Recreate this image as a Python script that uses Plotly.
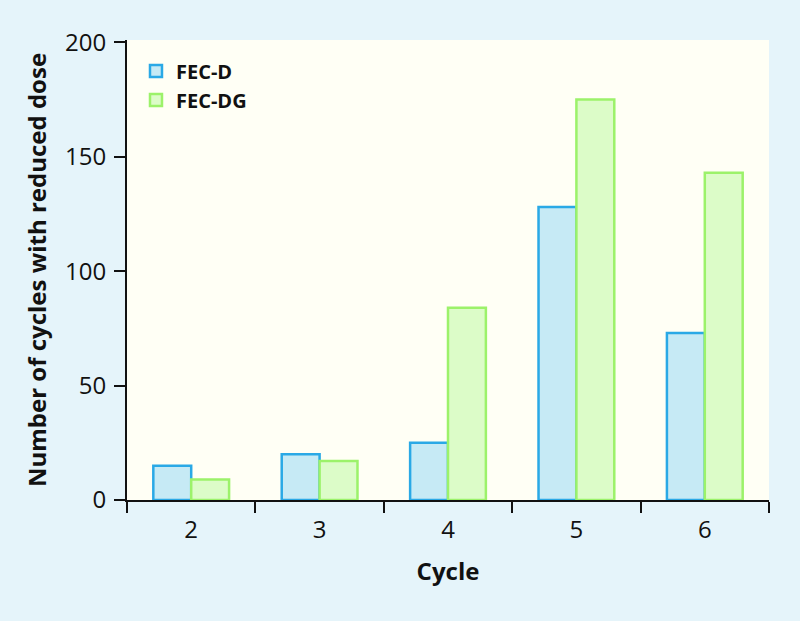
import plotly.graph_objects as go

cycles = ["2", "3", "4", "5", "6"]
fec_d = [15, 20, 25, 128, 73]
fec_dg = [9, 17, 84, 175, 143]

FONT = "Open Sans"

fig = go.Figure()
fig.add_trace(go.Bar(
    x=cycles, y=fec_d, name="FEC-D",
    marker=dict(color="#c6eaf5", line=dict(color="#2aa9e6", width=2.5)),
))
fig.add_trace(go.Bar(
    x=cycles, y=fec_dg, name="FEC-DG",
    marker=dict(color="#dcfcc8", line=dict(color="#9cf26a", width=2.5)),
))

fig.update_layout(
    width=800, height=621,
    paper_bgcolor="#e5f4fa",
    plot_bgcolor="#fffff5",
    margin=dict(l=127, r=31, t=40, b=121),
    barmode="group",
    bargap=0.41,
    bargroupgap=0,
    font=dict(family=FONT, color="#111111", size=24),
    showlegend=True,
    legend=dict(
        x=0.014, y=0.975, xanchor="left", yanchor="top",
        bgcolor="rgba(0,0,0,0)",
        font=dict(family=FONT, size=20, color="#111111", weight="bold"),
        tracegroupgap=0,
    ),
    xaxis=dict(
        showline=True, linecolor="#111111", linewidth=2,
        ticks="outside", ticklen=11, tickwidth=2, tickcolor="#111111",
        tickson="boundaries",
        ticklabelstandoff=7,
        tickfont=dict(family=FONT, size=24, color="#111111"),
        title=dict(text="Cycle", font=dict(family=FONT, size=24, weight="bold", color="#111111"), standoff=19),
        showgrid=False, zeroline=False,
    ),
    yaxis=dict(
        range=[0, 201],
        tickvals=[0, 50, 100, 150, 200],
        showline=True, linecolor="#111111", linewidth=2,
        ticks="outside", ticklen=11, tickwidth=2, tickcolor="#111111",
        ticklabelstandoff=3,
        tickfont=dict(family=FONT, size=24, color="#111111"),
        title=dict(text="Number of cycles with reduced dose", font=dict(family=FONT, size=24, weight="bold", color="#111111"), standoff=12),
        showgrid=False, zeroline=False,
    ),
)

fig.write_html("out.html", config={"displayModeBar": False},
               post_script="document.body.style.margin='0';")
